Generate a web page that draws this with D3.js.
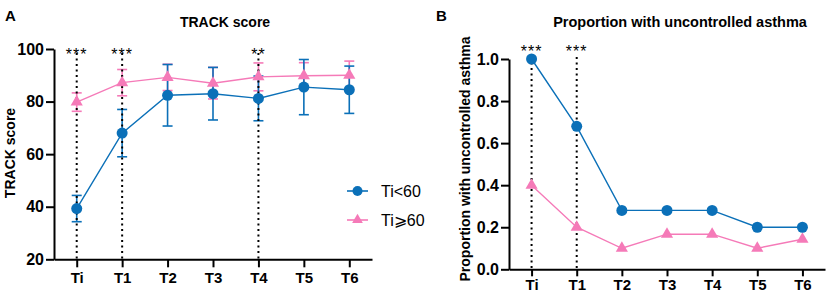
<!DOCTYPE html>
<html lang="en">
<head>
<meta charset="utf-8">
<title>TRACK score / uncontrolled asthma</title>
<script src="https://cdn.jsdelivr.net/npm/d3@7/dist/d3.min.js"></script>
<style>
  body { margin: 0; background: #fff; }
  svg { font-family: "Liberation Sans", Arial, sans-serif; }
  .axis path, .axis line { stroke: #000; stroke-width: 2; fill: none; }
  .axis text { font-weight: bold; font-size: 15px; fill: #000; }
  .yax text { font-size: 16px; }
</style>
</head>
<body>
<script>
// time points
const times = ["Ti", "T1", "T2", "T3", "T4", "T5", "T6"];

// panel A: TRACK score, mean and error (SD)
const trackLow = [39.3, 68, 82.4, 83, 81.2, 85.5, 84.5];
const trackLowErr = [5, 9, 11.7, 10, 8.5, 10.5, 9];
const trackHigh = [79.8, 87.2, 89.2, 87, 89.4, 89.8, 90];
const trackHighErr = [3.5, 5, 5, 6, 5.3, 5, 5.4];
const trackTicks = [20, 40, 60, 80, 100];
const trackStars = [["Ti", "***"], ["T1", "***"], ["T4", "**"]];

// panel B: proportion with uncontrolled asthma
const propLow = [1.0, 0.68, 0.28, 0.28, 0.28, 0.2, 0.2];
const propHigh = [0.4, 0.2, 0.1, 0.167, 0.167, 0.1, 0.143];
const propTicks = [0, 0.2, 0.4, 0.6, 0.8, 1.0];
const propStars = [["Ti", "***"], ["T1", "***"]];

const seriesNames = ["Ti<60", "Ti\u2A7E60"];
const blue = "#0b70b8", pink = "#f57ab8";

const svg = d3.select("body").append("svg")
  .attr("width", 829).attr("height", 299);

const tri = d3.symbol().type(d3.symbolTriangle).size(64);

const drawPanel = (cfg) => {
  const x = d3.scalePoint().domain(times).range(cfg.xr).padding(0.5);
  const y = d3.scaleLinear().domain(cfg.yd).range(cfg.yr);
  const g = svg.append("g");

  // error bars
  const errBars = (vals, errs, col) => {
    if (!errs) return;
    vals.forEach((v, i) => {
      const cx = x(times[i]);
      const eg = g.append("g").attr("stroke", col).attr("stroke-width", 1.6);
      eg.append("line").attr("x1", cx).attr("x2", cx).attr("y1", y(v - errs[i])).attr("y2", y(v + errs[i]));
      [v - errs[i], v + errs[i]].forEach(e => {
        eg.append("line").attr("x1", cx - 5).attr("x2", cx + 5).attr("y1", y(e)).attr("y2", y(e));
      });
    });
  };
  errBars(cfg.high, cfg.highErr, pink);
  errBars(cfg.low, cfg.lowErr, blue);

  // dotted significance lines and stars
  cfg.stars.forEach(([t, s]) => {
    g.append("line")
      .attr("x1", x(t)).attr("x2", x(t))
      .attr("y1", cfg.dotTop).attr("y2", cfg.yr[0])
      .attr("stroke", "#000").attr("stroke-width", 2)
      .attr("stroke-dasharray", "2,3.5");
    g.append("text").attr("x", x(t)).attr("y", cfg.starY)
      .attr("text-anchor", "middle").attr("font-size", 16)
      .attr("letter-spacing", "1px")
      .text(s);
  });

  const line = d3.line().x((d, i) => x(times[i])).y(d => y(d));
  g.append("path").datum(cfg.high).attr("d", line)
    .attr("fill", "none").attr("stroke", pink).attr("stroke-width", 1.4);
  g.append("path").datum(cfg.low).attr("d", line)
    .attr("fill", "none").attr("stroke", blue).attr("stroke-width", 1.4);

  g.selectAll(".tri").data(cfg.high).enter().append("path")
    .attr("d", tri)
    .attr("transform", (d, i) => `translate(${x(times[i])},${y(d)})`)
    .attr("fill", pink);
  g.selectAll(".dot").data(cfg.low).enter().append("circle")
    .attr("cx", (d, i) => x(times[i])).attr("cy", d => y(d))
    .attr("r", 5.5).attr("fill", blue);

  // axes
  g.append("g").attr("class", "axis yax")
    .attr("transform", `translate(${cfg.xr[0]},0)`)
    .call(d3.axisLeft(y).tickValues(cfg.ticks).tickFormat(cfg.fmt)
      .tickSize(8).tickSizeOuter(0).tickPadding(2));
  g.append("g").attr("class", "axis")
    .attr("transform", `translate(0,${cfg.yr[0]})`)
    .call(d3.axisBottom(x).tickSize(cfg.xTick).tickSizeOuter(0).tickPadding(cfg.xPad));

  // titles
  g.append("text").attr("x", cfg.titleX).attr("y", 27)
    .attr("text-anchor", "middle").attr("font-weight", "bold").attr("font-size", cfg.titleSize)
    .text(cfg.title);
  g.append("text").attr("x", cfg.letterX).attr("y", 21)
    .attr("font-weight", "bold").attr("font-size", 15).text(cfg.letter);
  g.append("text")
    .attr("transform", `translate(${cfg.ylabX},${cfg.ylabY}) rotate(-90)`)
    .attr("text-anchor", "middle").attr("font-weight", "bold").attr("font-size", 14)
    .text(cfg.ylab);
};

drawPanel({
  xr: [54, 372], yd: [20, 100], yr: [259.3, 49],
  low: trackLow, lowErr: trackLowErr, high: trackHigh, highErr: trackHighErr,
  ticks: trackTicks, fmt: d3.format("d"), stars: trackStars,
  dotTop: 53, starY: 60, xTick: 8, xPad: 5,
  title: "TRACK score", titleX: 225, titleSize: 14,
  letter: "A", letterX: 5,
  ylab: "TRACK score", ylabX: 15, ylabY: 153
});

drawPanel({
  xr: [509, 825], yd: [0, 1], yr: [269.3, 59],
  low: propLow, high: propHigh,
  ticks: propTicks, fmt: d3.format(".1f"), stars: propStars,
  dotTop: 57, starY: 57, xTick: 7, xPad: 3,
  title: "Proportion with uncontrolled asthma", titleX: 680, titleSize: 14.5,
  letter: "B", letterX: 436,
  ylab: "Proportion with uncontrolled asthma", ylabX: 470, ylabY: 159
});

// legend
const legend = svg.append("g");
[[blue, 191], [pink, 220]].forEach(([col, ly], i) => {
  legend.append("line").attr("x1", 347).attr("x2", 368).attr("y1", ly).attr("y2", ly)
    .attr("stroke", col).attr("stroke-width", 1.6);
  if (i === 0) {
    legend.append("circle").attr("cx", 357.5).attr("cy", ly).attr("r", 5).attr("fill", col);
  } else {
    legend.append("path").attr("d", d3.symbol().type(d3.symbolTriangle).size(50))
      .attr("transform", `translate(357.5,${ly})`).attr("fill", col);
  }
  legend.append("text").attr("x", 381).attr("y", ly + 6)
    .attr("font-size", 16).text(seriesNames[i]);
});
</script>
</body>
</html>
